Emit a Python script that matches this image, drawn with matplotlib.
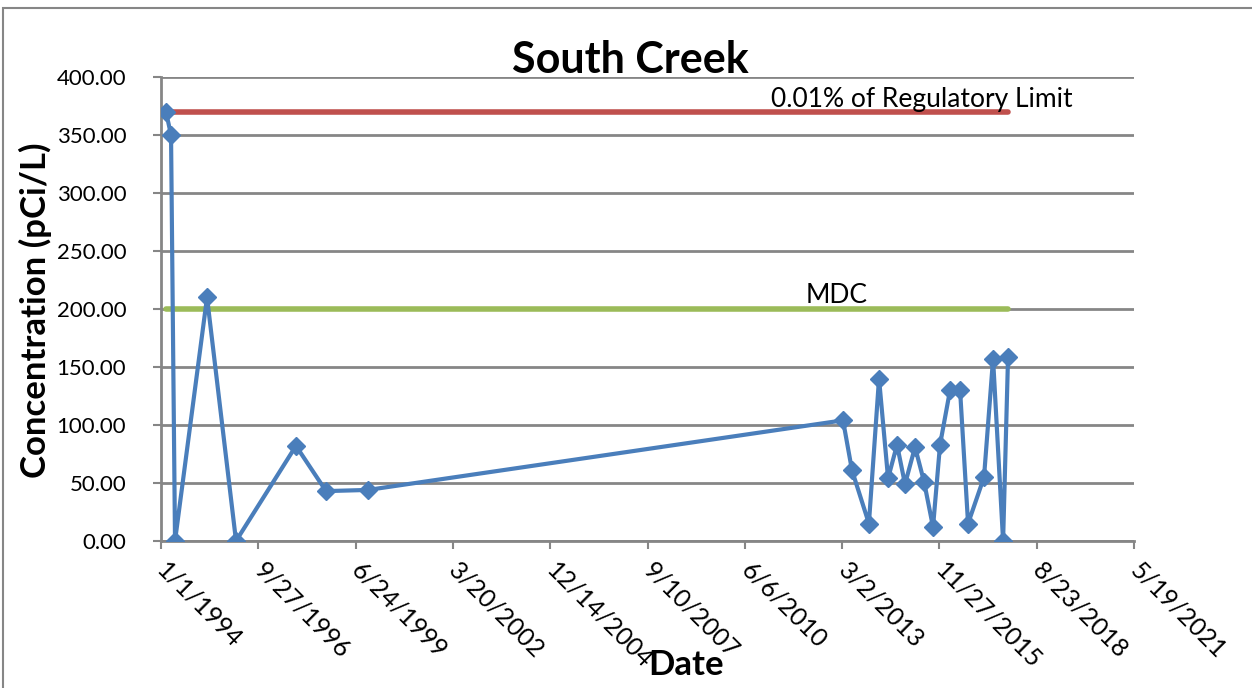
import datetime as dt

import matplotlib
matplotlib.use("Agg")
import matplotlib.dates as mdates
import matplotlib.pyplot as plt
import matplotlib.ticker as mticker
from matplotlib.patches import Rectangle

plt.rcParams['font.family'] = ['Lato', 'DejaVu Sans']

# sample dates and concentrations, pCi/L
sample_dates = ["1994-02-21", "1994-04-14", "1994-05-25", "1995-04-19", "1996-02-11",
                "1997-10-19", "1998-08-24", "1999-10-29", "2013-03-11", "2013-06-11",
                "2013-12-02", "2014-03-16", "2014-06-17", "2014-09-17", "2014-12-08",
                "2015-03-21", "2015-06-22", "2015-09-22", "2015-12-03", "2016-03-15",
                "2016-06-26", "2016-09-16", "2017-02-27", "2017-05-31", "2017-09-11",
                "2017-11-01"]
concentration = [370, 350, 0, 210, 0, 82, 43, 44, 104, 61, 15, 140, 54, 83, 49,
                 81, 51, 12, 83, 130, 130, 15, 55, 157, 0, 159]

reg_limit = 370   # 0.01% of regulatory limit
mdc = 200

dates = [dt.datetime.strptime(s, "%Y-%m-%d") for s in sample_dates]
x_start = dt.datetime(1994, 1, 1)
tick_dates = [x_start + dt.timedelta(days=1000 * i) for i in range(11)]

blue = "#4A7EBB"
red = "#C0504D"
green = "#9BBB59"
grid = "#868686"

fig = plt.figure(figsize=(12.52, 6.88), dpi=100)
ax = fig.add_axes([0.1286, 0.2137, 0.9058 - 0.1286, 0.8881 - 0.2137])

ax.plot([dates[0], dates[-1]], [reg_limit, reg_limit], color=red, lw=4, solid_capstyle='round', zorder=3)
ax.plot([dates[0], dates[-1]], [mdc, mdc], color=green, lw=4, solid_capstyle='round', zorder=3)
ax.plot(dates, concentration, color=blue, lw=3, marker='D', markersize=9.5,
        markerfacecolor=blue, markeredgecolor=blue, zorder=4)

ax.text(dt.datetime(2015, 6, 1), 381, "0.01% of Regulatory Limit", fontsize=19,
        ha='center', va='center')
ax.text(dt.datetime(2013, 1, 9), 212, "MDC", fontsize=19, ha='center', va='center')

ax.set_xlim(tick_dates[0], tick_dates[-1])
ax.set_ylim(0, 400)
ax.set_xticks(tick_dates)
ax.xaxis.set_major_formatter(mticker.FuncFormatter(
    lambda v, p: "{d.month}/{d.day}/{d.year}".format(d=mdates.num2date(v))))
ax.yaxis.set_major_locator(mticker.MultipleLocator(50))
ax.yaxis.set_major_formatter(mticker.FormatStrFormatter('%.2f'))

for lbl in ax.get_xticklabels():
    lbl.set_rotation(-45)
    lbl.set_ha('left')
    lbl.set_va('center')
    lbl.set_rotation_mode('anchor')
ax.tick_params(axis='x', labelsize=18, length=6, width=1.5, color=grid, pad=12)
ax.tick_params(axis='y', labelsize=16, length=6, width=1.5, color=grid, pad=19)

ax.grid(axis='y', color=grid, lw=2)
ax.set_axisbelow(True)
for s in ['top', 'right']:
    ax.spines[s].set_visible(False)
for s in ['left', 'bottom']:
    ax.spines[s].set_color(grid)
    ax.spines[s].set_linewidth(2)

fig.text(630 / 1252, 1 - 60 / 688, "South Creek", fontsize=31, fontweight='bold',
         ha='center', va='center')
fig.text(35 / 1252, 1 - 310 / 688, "Concentration (pCi/L)", fontsize=25, fontweight='bold',
         rotation=90, ha='center', va='center')
fig.text(686 / 1252, 1 - 665 / 688, "Date", fontsize=25, fontweight='bold',
         ha='center', va='center')

fig.patches.append(Rectangle((3 / 1252, -0.05), 1.1, 1 - 8 / 688 + 0.05, transform=fig.transFigure,
                             fill=False, edgecolor=grid, lw=1.5))

fig.savefig("out.png", dpi=100)
